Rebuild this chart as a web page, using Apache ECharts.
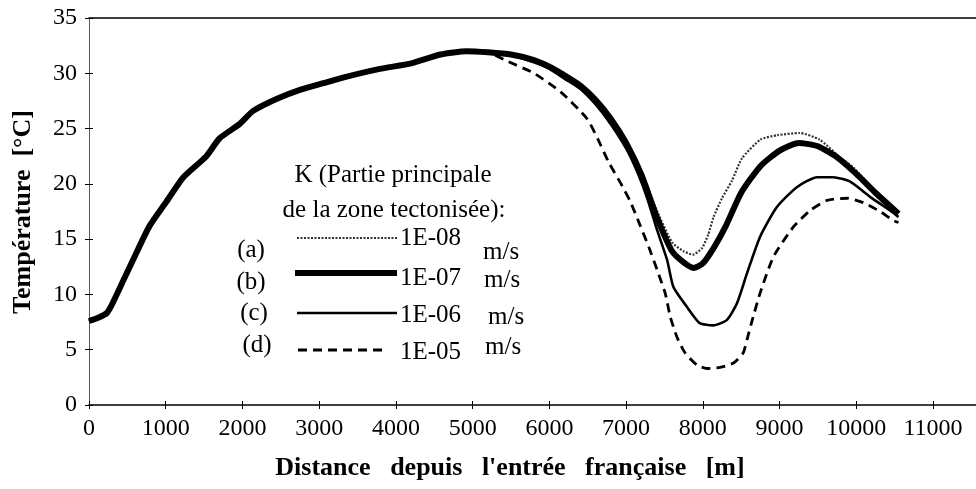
<!DOCTYPE html>
<html>
<head>
<meta charset="utf-8">
<script src="https://cdn.jsdelivr.net/npm/echarts@6/dist/echarts.min.js"></script>
<style>
  html, body { margin: 0; padding: 0; background: #fff; }
  #plot { width: 976px; height: 489px; }
</style>
</head>
<body>
<div id="plot"></div>
<script>
// partie commune aux quatre courbes (0 - 5200 m)
var distCommun = [0, 120, 230, 300, 450, 620, 790, 1010, 1230, 1530, 1700, 1960, 2140, 2450, 2750, 3050, 3360, 3790, 4200, 4580, 4920, 5200];
var tempCommun = [7.6, 7.9, 8.3, 9.1, 11.3, 13.8, 16.2, 18.4, 20.6, 22.5, 24.1, 25.4, 26.6, 27.7, 28.5, 29.1, 29.7, 30.4, 30.9, 31.7, 32.0, 31.9];

// (a) K = 1E-08
var distA = [5500, 5800, 6000, 6200, 6400, 6600, 6800, 7000, 7200, 7400, 7600, 7750, 7870, 7990, 8070, 8140, 8250, 8380, 8510, 8750, 8970, 9260, 9520, 9790, 9960, 10270, 10550];
var tempA = [31.8, 31.3, 30.7, 30.0, 29.1, 27.8, 26.1, 24.0, 21.2, 17.6, 14.7, 13.9, 13.6, 14.2, 15.4, 17.0, 18.7, 20.3, 22.3, 24.0, 24.4, 24.6, 24.0, 22.4, 21.5, 19.2, 17.4];

// (b) K = 1E-07
var distB = [5500, 5800, 6000, 6200, 6400, 6600, 6800, 7000, 7200, 7400, 7600, 7750, 7880, 8000, 8150, 8300, 8500, 8750, 9000, 9250, 9500, 9750, 10000, 10250, 10550];
var tempB = [31.7, 31.2, 30.6, 29.8, 28.9, 27.6, 25.9, 23.7, 20.8, 17.0, 13.9, 12.9, 12.4, 12.8, 14.3, 16.2, 19.2, 21.6, 23.0, 23.7, 23.4, 22.4, 20.9, 19.2, 17.3];

// (c) K = 1E-06
var distC = [5500, 5800, 6000, 6200, 6400, 6600, 6800, 7000, 7150, 7270, 7400, 7535, 7615, 7790, 7960, 8135, 8315, 8445, 8575, 8745, 8965, 9225, 9490, 9700, 9920, 10185, 10480, 10550];
var tempC = [31.6, 31.0, 30.4, 29.5, 28.6, 27.2, 25.4, 23.2, 21.0, 18.8, 15.9, 13.1, 10.7, 8.9, 7.4, 7.2, 7.7, 9.2, 11.9, 15.2, 17.9, 19.7, 20.6, 20.6, 20.2, 18.8, 17.4, 17.0];

// (d) K = 1E-05
var distD = [5450, 5800, 6150, 6490, 6635, 6770, 6950, 7055, 7185, 7295, 7405, 7510, 7575, 7665, 7770, 7925, 8055, 8225, 8400, 8525, 8575, 8645, 8745, 8920, 9180, 9400, 9620, 9880, 10090, 10310, 10480, 10550];
var tempD = [31.1, 30.0, 28.3, 25.9, 24.0, 22.0, 19.8, 18.4, 16.2, 14.3, 12.2, 10.1, 8.0, 6.1, 4.7, 3.6, 3.3, 3.4, 3.8, 4.7, 5.9, 7.7, 10.1, 13.4, 16.1, 17.6, 18.5, 18.7, 18.3, 17.5, 16.7, 16.5];

var ticksX = [0, 11560, 1000];
var ticksY = [0, 35, 5];

var police = 'Liberation Serif, Times New Roman, serif';

function paires (dist, temp) {
	var d = [];
	for (var i = 0; i < distCommun.length; i++)
		d.push([distCommun[i], tempCommun[i]]);
	for (var j = 0; j < dist.length; j++)
		d.push([dist[j], temp[j]]);
	return d;
}

function serie (nom, dist, temp, style) {
	return {
		name: nom,
		type: 'line',
		data: paires(dist, temp),
		showSymbol: false,
		symbol: 'none',
		smooth: 0.2,
		lineStyle: style
	};
}

function texte (t, x, y, align, size, bold, rot) {
	return {
		type: 'text',
		x: x, y: y,
		rotation: rot || 0,
		style: {
			text: t,
			x: 0, y: 0,
			align: align,
			verticalAlign: 'middle',
			fontFamily: police,
			fontSize: size,
			fontWeight: bold ? 'bold' : 'normal',
			fill: '#000'
		}
	};
}

function trait (x1, x2, y, style) {
	return {
		type: 'line',
		shape: { x1: x1, y1: y, x2: x2, y2: y },
		style: style
	};
}

var styleA = { color: '#333', width: 2.2, type: [2, 1.5] };
var styleB = { color: '#000', width: 6 };
var styleC = { color: '#000', width: 2.6 };
var styleD = { color: '#000', width: 2.8, type: [9, 6] };

var axeX = {
	type: 'value', min: ticksX[0], max: ticksX[1], interval: ticksX[2],
	gridIndex: 0
};
var axeY = {
	type: 'value', min: ticksY[0], max: ticksY[1], interval: ticksY[2],
	gridIndex: 0
};

function brut (v) { return String(v); }

var option = {
	animation: false,
	backgroundColor: '#fff',
	grid: { left: 89, right: 0, top: 18, bottom: 84, containLabel: false },
	xAxis: [
		Object.assign({}, axeX, {
			position: 'bottom',
			axisLine: { lineStyle: { color: '#000', width: 1.5 } },
			axisTick: { show: true, length: 4, lineStyle: { color: '#000' } },
			axisLabel: { fontFamily: police, fontSize: 24, color: '#000', margin: 12, showMaxLabel: false, formatter: brut },
			splitLine: { show: false }
		}),
		Object.assign({}, axeX, {
			position: 'bottom',
			axisLine: { show: false },
			axisTick: { show: true, inside: true, length: 4, lineStyle: { color: '#000' } },
			axisLabel: { show: false },
			splitLine: { show: false }
		}),
		Object.assign({}, axeX, {
			position: 'top',
			axisLine: { lineStyle: { color: '#000', width: 1.5 } },
			axisTick: { show: false },
			axisLabel: { show: false },
			splitLine: { show: false }
		})
	],
	yAxis: [
		Object.assign({}, axeY, {
			position: 'left',
			axisLine: { show: true, lineStyle: { color: '#555', width: 1 } },
			axisTick: { show: true, length: 4, lineStyle: { color: '#000' } },
			axisLabel: { fontFamily: police, fontSize: 24, color: '#000', margin: 12, formatter: brut },
			splitLine: { show: false }
		}),
		Object.assign({}, axeY, {
			position: 'left',
			axisLine: { show: false },
			axisTick: { show: true, inside: true, length: 4, lineStyle: { color: '#000' } },
			axisLabel: { show: false },
			splitLine: { show: false }
		})
	],
	series: [
		serie('(d) 1E-05 m/s', distD, tempD, styleD),
		serie('(c) 1E-06 m/s', distC, tempC, styleC),
		serie('(a) 1E-08 m/s', distA, tempA, styleA),
		serie('(b) 1E-07 m/s', distB, tempB, styleB)
	],
	graphic: [
		texte('Température  [°C]', 23, 212, 'center', 26, true, Math.PI / 2),
		texte('Distance   depuis   l\'entrée   française   [m]', 510, 468, 'center', 26, true),
		texte('K (Partie principale', 393, 175, 'center', 25),
		texte('de la zone tectonisée):', 394, 210, 'center', 25),
		texte('(a)', 251, 250, 'center', 25),
		texte('(b)', 251, 282, 'center', 25),
		texte('(c)', 254, 313, 'center', 25),
		texte('(d)', 257, 345, 'center', 25),
		trait(297, 397, 238, { stroke: '#333', lineWidth: 2.2, lineDash: [2, 1.5] }),
		trait(295, 397, 273, { stroke: '#000', lineWidth: 6 }),
		trait(297, 397, 313, { stroke: '#000', lineWidth: 2.6 }),
		trait(298, 383, 350, { stroke: '#000', lineWidth: 2.8, lineDash: [9, 6] }),
		texte('1E-08', 400, 238, 'left', 25),
		texte('1E-07', 400, 278, 'left', 25),
		texte('1E-06', 400, 315, 'left', 25),
		texte('1E-05', 400, 352, 'left', 25),
		texte('m/s', 483, 252, 'left', 25),
		texte('m/s', 484, 280, 'left', 25),
		texte('m/s', 488, 317, 'left', 25),
		texte('m/s', 485, 347, 'left', 25)
	]
};

var myChart = echarts.init(document.getElementById('plot'), null, { renderer: 'canvas' });
myChart.setOption(option);
</script>
</body>
</html>
